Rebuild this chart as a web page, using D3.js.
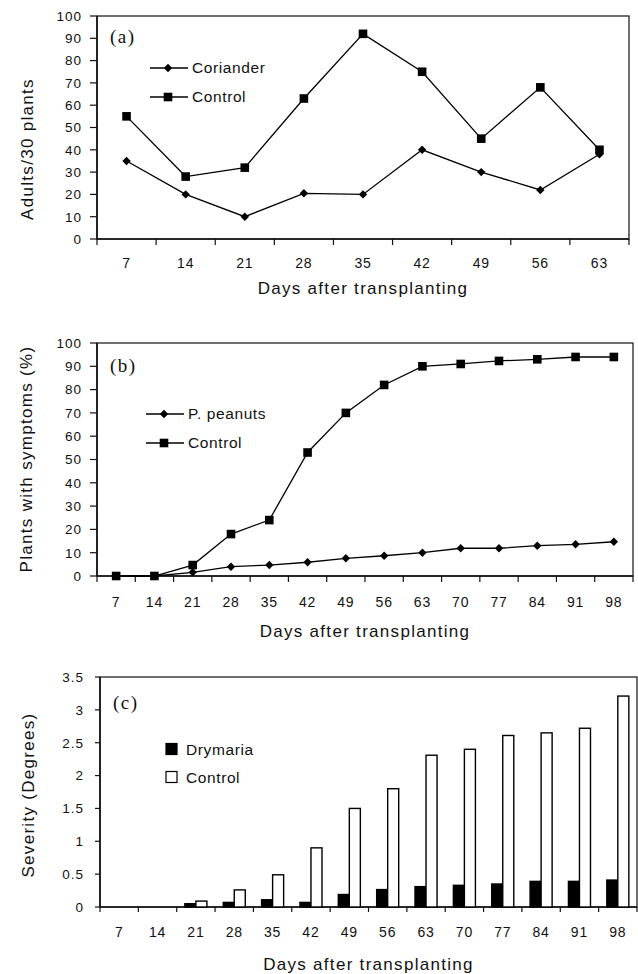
<!DOCTYPE html>
<html>
  <head>
    <meta charset="utf-8" />
    <title>Adults, symptoms and severity</title>
    <script src="https://d3js.org/d3.v7.min.js" charset="utf-8"></script>
    <style>
      body { margin: 0; background: #fff; }
      svg { display: block; }
      text { font-family: "Liberation Sans", Arial, sans-serif; fill: #111; }
      .tick-y { font-size: 13.5px; letter-spacing: 1px; }
      .tick-x { font-size: 14px; letter-spacing: 0.8px; }
      .title { font-size: 17px; letter-spacing: 1.3px; }
      .legend { font-size: 15.5px; letter-spacing: 0.6px; }
      .panel { font-family: "Liberation Serif", "Times New Roman", serif; font-size: 19px; letter-spacing: 1.5px; }
    </style>
  </head>
  <body>
    <svg id="canvas" width="638" height="974"></svg>
    <script>
      // panel (a)
      var daysA = [7, 14, 21, 28, 35, 42, 49, 56, 63];
      var corianderA = [35, 20, 10, 20.5, 20, 40, 30, 22, 38];
      var controlA = [55, 28, 32, 63, 92, 75, 45, 68, 40];
      var yTicksA = [0, 10, 20, 30, 40, 50, 60, 70, 80, 90, 100];

      // panel (b)
      var daysB = [7, 14, 21, 28, 35, 42, 49, 56, 63, 70, 77, 84, 91, 98];
      var peanutsB = [0, 0, 1.6, 4, 4.7, 5.9, 7.6, 8.7, 10, 11.9, 11.9, 13, 13.6, 14.7];
      var controlB = [0, 0, 4.7, 18, 24, 53, 70, 82, 90, 91, 92.3, 93, 94, 94];
      var yTicksB = [0, 10, 20, 30, 40, 50, 60, 70, 80, 90, 100];

      // panel (c)
      var daysC = [7, 14, 21, 28, 35, 42, 49, 56, 63, 70, 77, 84, 91, 98];
      var drymariaC = [0, 0, 0.05, 0.07, 0.11, 0.07, 0.19, 0.265, 0.31, 0.33, 0.35, 0.39, 0.39, 0.41];
      var controlC = [0, 0, 0.09, 0.26, 0.49, 0.9, 1.5, 1.8, 2.31, 2.4, 2.61, 2.65, 2.72, 3.21];
      var yTicksC = [0, 0.5, 1, 1.5, 2, 2.5, 3, 3.5];

      var xTitle = "Days after transplanting";

      var canvas = d3.select("#canvas");

      // frame, axes, ticks and titles shared by all three panels
      function drawFrame(p, x, y, ticks) {
        var g = canvas.append("g");

        g.append("rect")
          .attr("x", p.left).attr("y", p.top)
          .attr("width", p.right - p.left).attr("height", p.bottom - p.top)
          .attr("fill", "none").attr("stroke", "#111").attr("stroke-width", 1.2);

        // left and bottom axis lines
        g.append("line")
          .attr("x1", p.left).attr("x2", p.left)
          .attr("y1", p.top).attr("y2", p.bottom)
          .attr("stroke", "#111").attr("stroke-width", 1.6);
        g.append("line")
          .attr("x1", p.left).attr("x2", p.right)
          .attr("y1", p.bottom).attr("y2", p.bottom)
          .attr("stroke", "#111").attr("stroke-width", 1.6);

        // y ticks
        g.selectAll(".yt")
          .data(ticks)
          .enter()
          .append("line")
          .attr("x1", p.left - p.yTick).attr("x2", p.left)
          .attr("y1", function (d) { return y(d); })
          .attr("y2", function (d) { return y(d); })
          .attr("stroke", "#111").attr("stroke-width", 1.2);
        g.selectAll(".tick-y")
          .data(ticks)
          .enter()
          .append("text")
          .attr("class", "tick-y")
          .attr("x", p.yLabelRight)
          .attr("y", function (d) { return y(d); })
          .attr("dy", "0.36em")
          .attr("text-anchor", "end")
          .text(function (d) { return d; });

        // x ticks at category boundaries, labels in the middle
        var bounds = x.domain().map(function (d) { return x(d); });
        bounds.push(p.right);
        g.selectAll(".xt")
          .data(bounds)
          .enter()
          .append("line")
          .attr("x1", function (d) { return d; })
          .attr("x2", function (d) { return d; })
          .attr("y1", p.bottom).attr("y2", p.bottom + p.xTick)
          .attr("stroke", "#111").attr("stroke-width", 1.2);
        g.selectAll(".tick-x")
          .data(x.domain())
          .enter()
          .append("text")
          .attr("class", "tick-x")
          .attr("x", function (d) { return x(d) + x.bandwidth() / 2; })
          .attr("y", p.xLabelY)
          .attr("text-anchor", "middle")
          .text(function (d) { return d; });

        g.append("text")
          .attr("class", "title")
          .attr("x", (p.left + p.right) / 2)
          .attr("y", p.xTitleY)
          .attr("text-anchor", "middle")
          .text(xTitle);

        g.append("text")
          .attr("class", "title")
          .attr("transform", "translate(" + p.yTitleX + "," + p.yTitleY + ") rotate(-90)")
          .attr("text-anchor", "middle")
          .text(p.yTitle);

        g.append("text")
          .attr("class", "panel")
          .attr("x", p.left + 13)
          .attr("y", p.panelY)
          .text(p.panel);

        return g;
      }

      function diamond(sel, cx, cy) {
        sel.append("path")
          .attr("d", "M" + cx + "," + (cy - 4.2) + "L" + (cx + 4.2) + "," + cy +
            "L" + cx + "," + (cy + 4.2) + "L" + (cx - 4.2) + "," + cy + "Z")
          .attr("fill", "#000");
      }
      function square(sel, cx, cy) {
        sel.append("rect")
          .attr("x", cx - 4.3).attr("y", cy - 4.3)
          .attr("width", 8.6).attr("height", 8.6)
          .attr("fill", "#000");
      }

      function drawLinePanel(p, days, s1, s2, ticks) {
        var x = d3.scaleBand().domain(days).range([p.left, p.right]);
        var y = d3.scaleLinear().domain([0, 100]).range([p.bottom, p.top]);
        var g = drawFrame(p, x, y, ticks);
        var cx = function (d, i) { return x(days[i]) + x.bandwidth() / 2; };

        var line = d3.line().x(cx).y(function (d) { return y(d); });

        [s1, s2].forEach(function (vals, k) {
          g.append("path")
            .attr("d", line(vals))
            .attr("fill", "none")
            .attr("stroke", "#000")
            .attr("stroke-width", 1.3);
          vals.forEach(function (v, i) {
            if (k === 0) diamond(g, cx(v, i), y(v));
            else square(g, cx(v, i), y(v));
          });
        });

        // legend
        p.legend.forEach(function (name, k) {
          var ly = p.legendY[k];
          g.append("line")
            .attr("x1", p.legendX).attr("x2", p.legendX + 38)
            .attr("y1", ly).attr("y2", ly)
            .attr("stroke", "#000").attr("stroke-width", 1.3);
          if (k === 0) diamond(g, p.legendX + 18, ly);
          else square(g, p.legendX + 18, ly);
          g.append("text")
            .attr("class", "legend")
            .attr("x", p.legendX + 42)
            .attr("y", ly + 4.5)
            .text(name);
        });
      }

      function drawBarPanel(p, days, s1, s2, ticks) {
        var x = d3.scaleBand().domain(days).range([p.left, p.right]);
        var x1 = d3.scaleBand().domain([0, 1]).range([0, x.bandwidth()])
          .paddingInner(0).paddingOuter(0.74);
        var y = d3.scaleLinear().domain([0, 3.5]).range([p.bottom, p.top]);
        var g = drawFrame(p, x, y, ticks);

        [s1, s2].forEach(function (vals, k) {
          g.selectAll(".bar" + k)
            .data(vals.map(function (v, i) { return { day: days[i], v: v }; })
              .filter(function (d) { return d.v > 0; }))
            .enter()
            .append("rect")
            .attr("x", function (d) { return x(d.day) + x1(k); })
            .attr("y", function (d) { return y(d.v); })
            .attr("width", x1.bandwidth())
            .attr("height", function (d) { return y(0) - y(d.v); })
            .attr("fill", k === 0 ? "#000" : "#fff")
            .attr("stroke", "#000")
            .attr("stroke-width", 1.4);
        });

        p.legend.forEach(function (name, k) {
          var ly = p.legendY[k];
          g.append("rect")
            .attr("x", p.legendX).attr("y", ly - 5.5)
            .attr("width", 11).attr("height", 11)
            .attr("fill", k === 0 ? "#000" : "#fff")
            .attr("stroke", "#000").attr("stroke-width", 1.2);
          g.append("text")
            .attr("class", "legend")
            .attr("x", p.legendX + 20)
            .attr("y", ly + 6)
            .text(name);
        });
      }

      drawLinePanel({
        left: 97, right: 629, top: 16, bottom: 239,
        yTick: 7, xTick: 6, yLabelRight: 82,
        xLabelY: 268, xTitleY: 294,
        yTitle: "Adults/30 plants", yTitleX: 33, yTitleY: 149,
        panel: "(a)", panelY: 43,
        legend: ["Coriander", "Control"], legendX: 150, legendY: [68, 97]
      }, daysA, corianderA, controlA, yTicksA);

      drawLinePanel({
        left: 97, right: 633, top: 343, bottom: 576,
        yTick: 7, xTick: 6, yLabelRight: 82,
        xLabelY: 607, xTitleY: 637,
        yTitle: "Plants with symptoms (%)", yTitleX: 32, yTitleY: 459,
        panel: "(b)", panelY: 372,
        legend: ["P. peanuts", "Control"], legendX: 146, legendY: [414, 443]
      }, daysB, peanutsB, controlB, yTicksB);

      drawBarPanel({
        left: 100, right: 637, top: 677, bottom: 907,
        yTick: 5, xTick: 5, yLabelRight: 84,
        xLabelY: 937, xTitleY: 970,
        yTitle: "Severity (Degrees)", yTitleX: 34, yTitleY: 795,
        panel: "(c)", panelY: 709,
        legend: ["Drymaria", "Control"], legendX: 166, legendY: [749, 777]
      }, daysC, drymariaC, controlC, yTicksC);
    </script>
  </body>
</html>
